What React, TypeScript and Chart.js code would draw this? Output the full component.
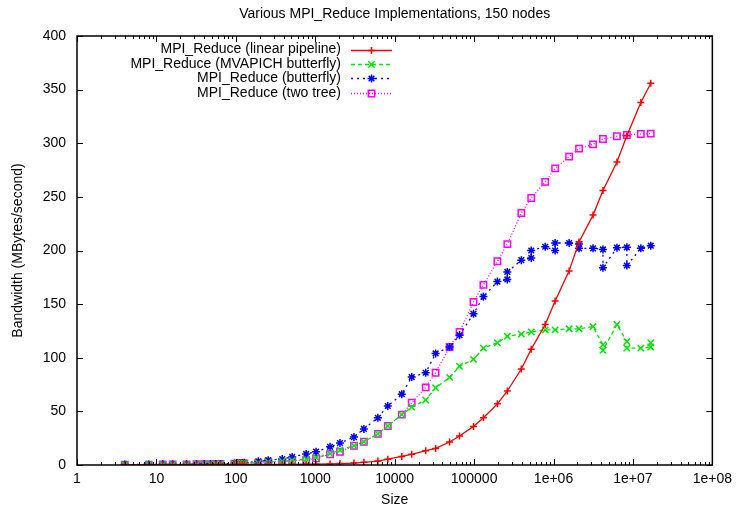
import React, { useEffect, useRef } from 'react';
import { Chart, registerables } from 'chart.js';

Chart.register(...registerables);

const TITLE = 'Various MPI_Reduce Implementations, 150 nodes';
const X_TITLE = 'Size';
const Y_TITLE = 'Bandwidth (MBytes/second)';

const X_TICKS = [1, 10, 100, 1000, 1e4, 1e5, 1e6, 1e7, 1e8];
const X_TICK_LABELS = ['1', '10', '100', '1000', '10000', '100000', '1e+06', '1e+07', '1e+08'];
const Y_TICKS = [0, 50, 100, 150, 200, 250, 300, 350, 400];

// message sizes shared by "linear pipeline" and "two tree"
const sizes = [
  4, 8, 12, 16, 24, 32, 40, 48, 56, 64, 96, 104, 112, 120, 128, 192, 256, 384, 512,
  768, 1024, 1536, 2048, 3072, 4096, 6144, 8192, 12288, 16384, 24576, 32768,
  49152, 65536, 98304, 131072, 196608, 262144, 393216, 524288, 786432, 1048576,
  1572864, 2097152, 3145728, 4194304, 6291456, 8388608, 12582912, 16777216,
];

const linearPipeline = [
  0.05, 0.1, 0.1, 0.15, 0.2, 0.25, 0.3, 0.3, 0.35, 0.4, 0.45, 0.5, 0.5, 0.55, 0.6, 0.6, 0.6, 0.6, 0.6,
  0.7, 0.8, 1, 1.3, 1.8, 2.5, 3.7, 5.4, 8, 10, 13.4, 15.5,
  21.4, 27, 36, 44, 57, 69, 89.5, 108, 131, 153,
  181, 208, 233, 256, 282.5, 307, 338, 356,
];

const twoTree = [
  0.3, 0.4, 0.5, 0.5, 0.6, 0.7, 0.8, 0.8, 0.9, 1.0, 1.2, 1.3, 1.3, 1.4, 1.5, 2.2, 3, 3, 4,
  4.7, 6.2, 10, 12.4, 18, 21.7, 29, 36.4, 47, 58, 72.4, 86,
  110, 124, 152, 168, 190, 206, 235, 249, 264, 276.6,
  287.5, 295, 299, 304, 306.5, 307.7, 308.6, 309,
];

const mvapichSizes = [
  4, 8, 12, 16, 24, 32, 40, 48, 56, 64, 96, 104, 112, 120, 128, 192, 256, 384, 512,
  768, 1024, 1536, 2048, 3072, 4096, 6144, 8192, 12288, 16384, 24576, 32768,
  49152, 65536, 98304, 131072, 196608, 262144, 393216, 524288, 786432, 1048576,
  1572864, 2097152, 3145728, 4194304, 4194304, 6291456, 8388608, 8388608, 12582912, 16777216, 16777216,
];
const mvapichButterfly = [
  0.3, 0.4, 0.5, 0.5, 0.6, 0.7, 0.8, 0.8, 0.9, 1.0, 1.2, 1.3, 1.3, 1.4, 1.5, 2, 2.8, 3.5, 4.2,
  5.5, 7, 10.5, 14, 18, 21.7, 29, 36.4, 47, 54, 60.6, 72,
  81.7, 92, 98.5, 109, 114, 120, 122, 124, 126, 126,
  127, 127, 129, 112, 107, 131, 115, 109, 109, 110, 114,
];

const butterflySizes = [
  4, 8, 12, 16, 24, 32, 40, 48, 56, 64, 96, 104, 112, 120, 128, 192, 256, 384, 512,
  768, 1024, 1536, 2048, 3072, 4096, 6144, 8192, 12288, 16384, 24576, 32768,
  49152, 65536, 98304, 131072, 196608, 262144, 262144, 393216, 524288, 524288, 786432,
  1048576, 1048576, 1572864, 2097152, 2097152, 3145728, 4194304, 4194304, 6291456,
  8388608, 8388608, 12582912, 16777216,
];
const butterfly = [
  0.4, 0.5, 0.6, 0.6, 0.7, 0.8, 0.9, 0.9, 1.0, 1.0, 1.5, 1.6, 1.7, 1.8, 2, 3.5, 4.5, 5.6, 7.5,
  10.3, 12.4, 17, 20.5, 26, 33.6, 44, 55, 66, 82, 86, 104,
  110, 121, 141, 157, 171, 173, 180, 191, 193, 200, 203.5,
  200, 207, 207, 206, 202, 202, 201, 184, 202.6,
  203, 186, 202, 204.5,
];

const SERIES_NAMES = [
  'MPI_Reduce (linear pipeline)',
  'MPI_Reduce (MVAPICH butterfly)',
  'MPI_Reduce (butterfly)',
  'MPI_Reduce (two tree)',
];
const SERIES_COLORS = ['#ff0000', '#00e600', '#0000ff', '#ff00ff'];
const SERIES_DASH: number[][] = [[], [4, 3], [2, 4], [1, 2]];
const SERIES_POINT = ['cross', 'crossRot', 'star', 'rect'];
const SERIES_RADIUS = [3.5, 4.5, 4, 4.5];

const FONT = "'Liberation Sans', Arial, sans-serif";
const FONT_SIZE = 14;

function toPoints(xs: number[], ys: number[]) {
  return xs.map((x, i) => ({ x, y: ys[i] }));
}

function drawMarker(ctx: CanvasRenderingContext2D, style: string, x: number, y: number, r: number) {
  ctx.beginPath();
  if (style === 'cross' || style === 'star') {
    ctx.moveTo(x - r, y); ctx.lineTo(x + r, y);
    ctx.moveTo(x, y - r); ctx.lineTo(x, y + r);
  }
  if (style === 'crossRot' || style === 'star') {
    const d = r * Math.SQRT1_2;
    ctx.moveTo(x - d, y - d); ctx.lineTo(x + d, y + d);
    ctx.moveTo(x - d, y + d); ctx.lineTo(x + d, y - d);
  }
  if (style === 'rect') {
    const s = r * Math.SQRT1_2;
    ctx.rect(x - s, y - s, 2 * s, 2 * s);
  }
  ctx.stroke();
}

const gnuplotPlugin = {
  id: 'gnuplotDecor',
  afterDatasetsDraw(chart: any) {
    const { ctx, chartArea: a, scales } = chart;
    const xs = scales.x;
    const ys = scales.y;
    ctx.save();
    ctx.strokeStyle = '#000';
    ctx.lineWidth = 1;
    ctx.setLineDash([]);
    ctx.beginPath();
    for (const v of Y_TICKS) {
      const y = Math.round(ys.getPixelForValue(v)) + 0.5;
      ctx.moveTo(a.left, y); ctx.lineTo(a.left + 6, y);
      ctx.moveTo(a.right, y); ctx.lineTo(a.right - 6, y);
    }
    for (const v of X_TICKS) {
      const x = Math.round(xs.getPixelForValue(v)) + 0.5;
      ctx.moveTo(x, a.bottom); ctx.lineTo(x, a.bottom - 6);
      ctx.moveTo(x, a.top); ctx.lineTo(x, a.top + 6);
    }
    for (let d = 0; d < 8; d++) {
      for (let m = 2; m <= 9; m++) {
        const x = Math.round(xs.getPixelForValue(m * Math.pow(10, d))) + 0.5;
        ctx.moveTo(x, a.bottom); ctx.lineTo(x, a.bottom - 3);
        ctx.moveTo(x, a.top); ctx.lineTo(x, a.top + 3);
      }
    }
    ctx.stroke();
    ctx.lineWidth = 1.5;
    ctx.strokeRect(a.left, a.top, a.right - a.left, a.bottom - a.top);
    ctx.restore();
  },
  afterDraw(chart: any) {
    const { ctx, chartArea: a } = chart;
    ctx.save();
    ctx.fillStyle = '#000';
    ctx.font = `${FONT_SIZE}px ${FONT}`;
    ctx.textBaseline = 'middle';
    ctx.textAlign = 'center';
    const cx = (a.left + a.right) / 2;
    ctx.fillText(TITLE, cx, 14);
    ctx.fillText(X_TITLE, cx, 500);
    ctx.save();
    ctx.translate(18, (a.top + a.bottom) / 2);
    ctx.rotate(-Math.PI / 2);
    ctx.fillText(Y_TITLE, 0, 0);
    ctx.restore();

    // legend
    ctx.textAlign = 'right';
    for (let i = 0; i < SERIES_NAMES.length; i++) {
      const y = 49.5 + i * 14.4;
      ctx.fillStyle = '#000';
      ctx.fillText(SERIES_NAMES[i], 341, y);
      ctx.strokeStyle = SERIES_COLORS[i];
      ctx.lineWidth = 1.3;
      ctx.setLineDash(SERIES_DASH[i]);
      ctx.beginPath();
      ctx.moveTo(351, Math.round(y) + 0.5);
      ctx.lineTo(392, Math.round(y) + 0.5);
      ctx.stroke();
      ctx.setLineDash([]);
      ctx.lineWidth = 1.5;
      drawMarker(ctx, SERIES_POINT[i], 371.5, Math.round(y) + 0.5, SERIES_RADIUS[i]);
    }
    ctx.restore();
  },
};

export default function App() {
  const canvasRef = useRef<HTMLCanvasElement | null>(null);

  useEffect(() => {
    const canvas = canvasRef.current;
    if (!canvas) return;
    Chart.defaults.font.family = FONT;
    Chart.defaults.font.size = FONT_SIZE;
    Chart.defaults.color = '#000';

    const seriesData = [
      toPoints(sizes, linearPipeline),
      toPoints(mvapichSizes, mvapichButterfly),
      toPoints(butterflySizes, butterfly),
      toPoints(sizes, twoTree),
    ];

    const chart = new Chart(canvas, {
      type: 'line',
      data: {
        datasets: seriesData.map((data, i) => ({
          label: SERIES_NAMES[i],
          data,
          borderColor: SERIES_COLORS[i],
          backgroundColor: 'rgba(0,0,0,0)',
          borderWidth: 1.3,
          borderDash: SERIES_DASH[i],
          pointStyle: SERIES_POINT[i] as any,
          pointRadius: SERIES_RADIUS[i],
          pointBorderColor: SERIES_COLORS[i],
          pointBackgroundColor: 'rgba(0,0,0,0)',
          pointBorderWidth: 1.5,
          tension: 0,
          fill: false,
        })),
      },
      options: {
        responsive: false,
        animation: false,
        devicePixelRatio: 1,
        layout: { padding: { top: 36, right: 23, left: 0, bottom: 0 } },
        plugins: {
          legend: { display: false },
          title: { display: false },
          tooltip: { enabled: false },
        },
        scales: {
          x: {
            type: 'logarithmic',
            min: 1,
            max: 1e8,
            grid: { display: false, drawTicks: false },
            border: { display: false },
            afterFit: (scale: any) => { scale.height = 45; },
            afterBuildTicks: (scale: any) => {
              scale.ticks = X_TICKS.map((v) => ({ value: v }));
            },
            ticks: {
              autoSkip: false,
              maxRotation: 0,
              padding: 6,
              color: '#000',
              font: { size: FONT_SIZE, family: FONT },
              callback: (v: any) => {
                const idx = X_TICKS.indexOf(Number(v));
                return idx >= 0 ? X_TICK_LABELS[idx] : '';
              },
            },
          },
          y: {
            type: 'linear',
            min: 0,
            max: 400,
            grid: { display: false, drawTicks: false },
            border: { display: false },
            afterFit: (scale: any) => { scale.width = 77; },
            afterBuildTicks: (scale: any) => {
              scale.ticks = Y_TICKS.map((v) => ({ value: v }));
            },
            ticks: {
              padding: 11,
              color: '#000',
              font: { size: FONT_SIZE, family: FONT },
            },
          },
        },
      },
      plugins: [gnuplotPlugin],
    });

    return () => chart.destroy();
  }, []);

  return (
    <div style={{ position: 'absolute', left: 0, top: 0, width: 738, height: 510, background: '#fff' }}>
      <canvas ref={canvasRef} width={738} height={510} />
    </div>
  );
}
